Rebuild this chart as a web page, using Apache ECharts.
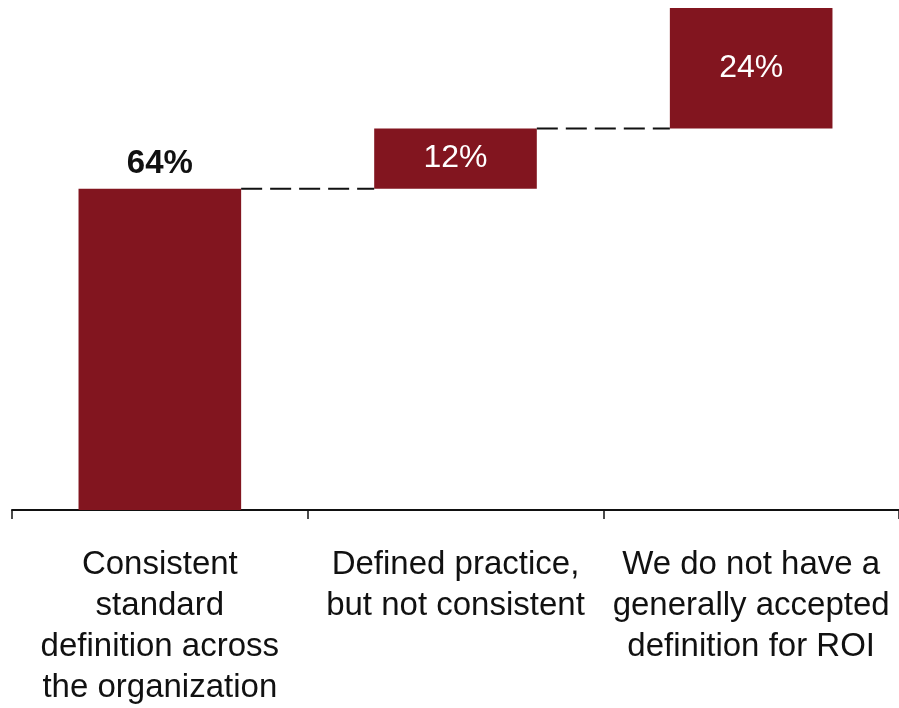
<!DOCTYPE html>
<html>
<head>
<meta charset="utf-8">
<script src="https://cdn.jsdelivr.net/npm/echarts@6/dist/echarts.min.js"></script>
<style>
  html, body { margin: 0; padding: 0; background: #ffffff; }
  #chart { width: 899px; height: 708px; }
</style>
</head>
<body>
<div id="chart"></div>
<script>
// Waterfall of how organizations define ROI (shares sum to 100%)
const categories = [
  'Consistent\nstandard\ndefinition across\nthe organization',
  'Defined practice,\nbut not consistent',
  'We do not have a\ngenerally accepted\ndefinition for ROI'
];
const shares = [64, 12, 24];

// Invisible base of each step = running total before that step
const bases = [];
let running = 0;
shares.forEach(v => { bases.push(running); running += v; });
// Connector levels: top of step i, joined to the bottom of step i+1
const connectors = shares.slice(0, -1).map((v, i) => [i, bases[i] + v]);

const BAR_COLOR = '#82151f';
const FONT = '"Liberation Sans", Arial, sans-serif';
const BAR_RATIO = 0.55;

const chart = echarts.init(document.getElementById('chart'), null, { renderer: 'canvas' });
chart.setOption({
  animation: false,
  grid: { left: 12, top: 8, bottom: 193, width: 891, containLabel: false },
  xAxis: {
    type: 'category',
    data: categories,
    boundaryGap: true,
    axisLine: { show: true, lineStyle: { color: '#111', width: 2 } },
    axisTick: { show: true, length: 9, lineStyle: { color: '#111', width: 1.5 } },
    axisLabel: {
      interval: 0,
      margin: 34,
      color: '#111',
      fontFamily: FONT,
      fontSize: 33,
      lineHeight: 41,
      align: 'center'
    }
  },
  yAxis: {
    type: 'value',
    min: 0,
    max: 100,
    show: false,
    splitLine: { show: false }
  },
  series: [
    {
      type: 'bar',
      stack: 'w',
      data: bases,
      barWidth: (BAR_RATIO * 100) + '%',
      itemStyle: { color: 'transparent' },
      silent: true
    },
    {
      type: 'bar',
      stack: 'w',
      barWidth: (BAR_RATIO * 100) + '%',
      itemStyle: { color: BAR_COLOR },
      data: shares.map((v, i) => ({
        value: v,
        label: i === 0
          ? { show: true, position: 'top', distance: 8, color: '#111', fontWeight: 'bold',
              fontFamily: FONT, fontSize: 33, formatter: '{c}%' }
          : { show: true, position: 'inside', color: '#ffffff', fontWeight: 'normal',
              fontFamily: FONT, fontSize: 32, formatter: '{c}%' }
      }))
    },
    {
      type: 'custom',
      data: connectors,
      silent: true,
      z: 5,
      renderItem: function (params, api) {
        const p = api.coord([api.value(0), api.value(1)]);
        const band = api.size([1, 0])[0];
        const half = band * BAR_RATIO / 2;
        return {
          type: 'line',
          shape: { x1: p[0] + half, y1: p[1], x2: p[0] + band - half, y2: p[1] },
          style: { stroke: '#111', lineWidth: 2, lineDash: [21, 8] }
        };
      }
    }
  ]
});
</script>
</body>
</html>
